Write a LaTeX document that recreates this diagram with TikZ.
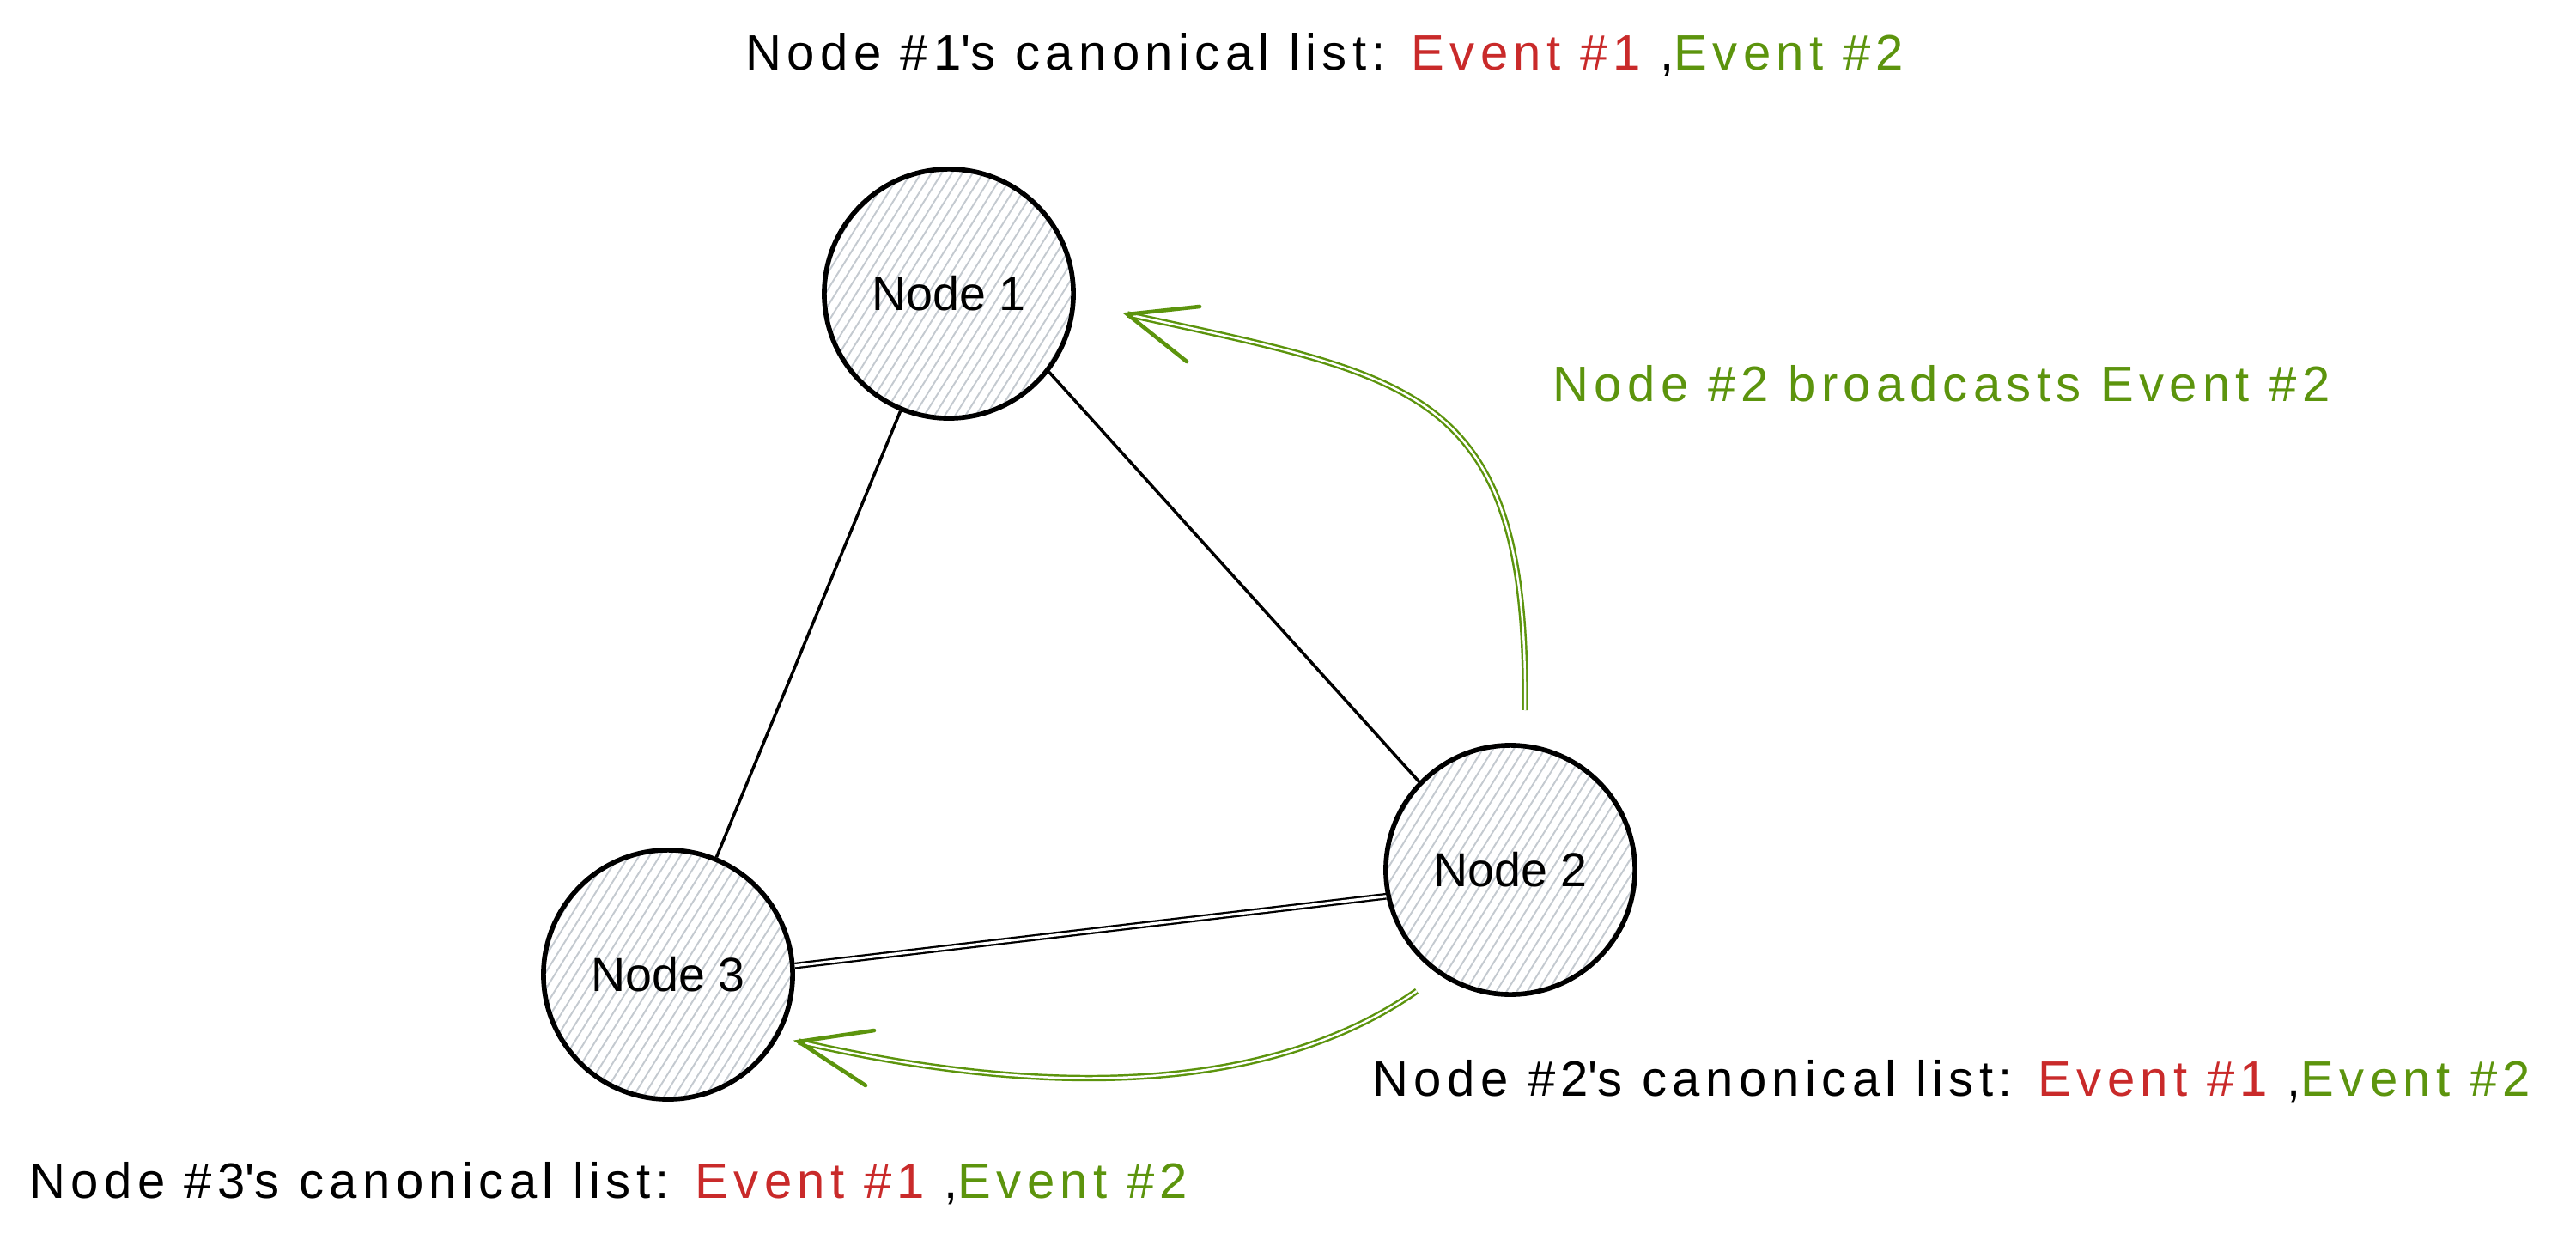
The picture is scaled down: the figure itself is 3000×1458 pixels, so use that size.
\documentclass[tikz,border=0pt]{standalone}
\usepackage{fontspec}
\setmainfont{Liberation Sans}[LetterSpace=11]
\newfontfamily\nodefont{Liberation Sans}
\usetikzlibrary{calc}
\definecolor{evred}{HTML}{C92A2A}
\definecolor{evgreen}{HTML}{5C940D}
\definecolor{hatchc}{HTML}{C4CAD0}
\tikzset{
  pnode/.style={circle, draw=black, line width=1.6pt, minimum size=2.9cm, inner sep=0pt,
    font=\nodefont\fontsize{15.8pt}{18pt}\selectfont},
  hatchline/.style={draw=hatchc, line width=0.55pt},
  edgeline/.style={draw=black, line width=1pt},
  dblline/.style={draw=black, double=white, double distance=0.9pt, line width=0.65pt},
  greenarrow/.style={draw=evgreen, double=white, double distance=0.7pt, line width=0.7pt},
  barb/.style={draw=evgreen, line width=1.3pt, line cap=round},
  lbl/.style={anchor=base west, inner sep=0pt, font=\fontsize{16.5pt}{19pt}\selectfont},
}
\begin{document}
\begin{tikzpicture}[x=0.01cm, y=-0.01cm]
\useasboundingbox[fill=white] (0,0) rectangle (3000,1458);
% centres
\coordinate (c1) at (1105,342);
\coordinate (c2) at (1759,1013);
\coordinate (c3) at (778,1135);
% hatching
\foreach \c in {c1,c2,c3}{
  \begin{scope}
    \clip (\c) circle (145);
    \foreach \i in {-16,...,16}{
      \draw[hatchline] ($(\c)+(\i*12,0)$) ++(-106,169.6) -- ++(212,-339.2);
    }
  \end{scope}
}
% nodes
\node[pnode] (n1) at (c1) {Node 1};
\node[pnode] (n2) at (c2) {Node 2};
\node[pnode] (n3) at (c3) {Node 3};
% connectors
\draw[edgeline] (n1) -- (n3);
\draw[edgeline] (n1.-38) -- (n2.136);
\draw[dblline] (n2.192) -- (n3.4);
% green arrow 1
\coordinate (a1s) at (1776,827);
\coordinate (a1t) at (1313,366);
\coordinate (a1u) at (1397,357);
\coordinate (a1d) at (1382,421);
\draw[greenarrow] (a1s) .. controls (1780,450) and (1650,440) .. (a1t);
\draw[barb] (a1u) -- (a1t) -- (a1d);
% green arrow 2
\coordinate (a2s) at (1650,1154);
\coordinate (a2t) at (930,1213);
\coordinate (a2u) at (1018,1200);
\coordinate (a2d) at (1008,1264);
\draw[greenarrow] (a2s) .. controls (1470,1280) and (1200,1275) .. (a2t);
\draw[barb] (a2u) -- (a2t) -- (a2d);
% labels
\node[lbl] (l1) at (868,82) {Node \#1\textquotesingle s canonical list: {\color{evred}Event \#1} ,{\color{evgreen}Event \#2}};
\node[lbl, text=evgreen] (lb) at (1808,468) {Node \#2 broadcasts Event \#2};
\node[lbl] (l2) at (1598,1276) {Node \#2\textquotesingle s canonical list: {\color{evred}Event \#1} ,{\color{evgreen}Event \#2}};
\node[lbl] (l3) at (34,1395) {Node \#3\textquotesingle s canonical list: {\color{evred}Event \#1} ,{\color{evgreen}Event \#2}};
\end{tikzpicture}
\end{document}
